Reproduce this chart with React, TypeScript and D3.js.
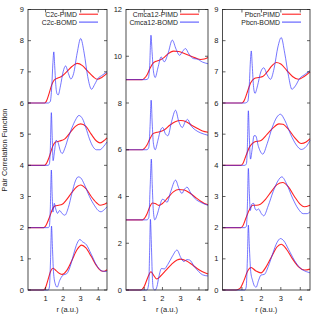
import * as d3 from "d3";

type Pt = [number, number];

// r (a.u.) ticks shared by the three panels
const rTicks = [1, 2, 3, 4];

// ---- C2c (values as plotted, offsets 6/4/2/0) ----
const c2cPimd: Pt[][] = [
  [[0,6],[0.95,6],[1.05,6.06],[1.2,6.3],[1.35,6.58],[1.5,6.74],[1.7,6.8],[1.9,6.85],[2.2,7.0],[2.5,7.17],[2.8,7.27],[3.1,7.2],[3.4,7.02],[3.7,6.85],[3.95,6.76],[4.2,6.82],[4.5,6.95]],
  [[0,4],[0.95,4],[1.05,4.06],[1.2,4.25],[1.4,4.6],[1.55,4.74],[1.8,4.78],[2.1,4.85],[2.4,5.05],[2.7,5.25],[3.0,5.33],[3.3,5.25],[3.6,5.0],[3.9,4.78],[4.1,4.72],[4.3,4.78],[4.5,4.88]],
  [[0,2],[0.9,2],[1.0,2.05],[1.2,2.3],[1.4,2.6],[1.55,2.7],[1.75,2.72],[1.95,2.75],[2.2,2.9],[2.5,3.13],[2.8,3.32],[3.0,3.37],[3.3,3.25],[3.6,3.0],[3.9,2.8],[4.1,2.72],[4.3,2.74],[4.5,2.8]],
  [[0,0],[0.88,0],[1.0,0.08],[1.15,0.35],[1.3,0.62],[1.43,0.7],[1.6,0.62],[1.8,0.53],[1.95,0.5],[2.2,0.62],[2.5,0.95],[2.8,1.3],[3.05,1.44],[3.3,1.35],[3.6,1.08],[3.9,0.78],[4.15,0.62],[4.35,0.6],[4.5,0.65]],
];
const c2cBomd: Pt[][] = [
  [[0,6],[1.15,6],[1.27,6.05],[1.35,6.5],[1.42,7.3],[1.47,7.64],[1.52,7.2],[1.58,6.6],[1.65,6.3],[1.72,6.26],[1.85,6.55],[2.0,7.0],[2.14,7.19],[2.3,6.95],[2.44,6.77],[2.6,6.95],[2.8,7.6],[3.0,8.07],[3.2,7.6],[3.4,6.85],[3.62,6.44],[3.8,6.6],[4.0,6.8],[4.2,6.88],[4.5,7.0]],
  [[0,4],[1.15,4],[1.22,4.05],[1.27,4.5],[1.33,5.69],[1.38,4.9],[1.43,4.15],[1.5,4.4],[1.6,4.8],[1.7,4.75],[1.85,4.45],[1.95,4.38],[2.1,4.55],[2.3,4.9],[2.5,5.2],[2.7,5.45],[2.9,5.6],[3.1,5.5],[3.3,5.2],[3.5,4.85],[3.7,4.6],[3.9,4.5],[4.1,4.5],[4.3,4.6],[4.5,4.75]],
  [[0,2],[1.15,2],[1.22,2.05],[1.27,2.6],[1.33,3.85],[1.38,3.0],[1.42,2.5],[1.5,2.78],[1.58,2.6],[1.68,2.46],[1.8,2.55],[1.95,2.45],[2.1,2.4],[2.3,2.65],[2.5,3.1],[2.7,3.5],[2.86,3.63],[3.0,3.6],[3.2,3.4],[3.5,3.0],[3.8,2.7],[4.0,2.55],[4.15,2.51],[4.35,2.58],[4.5,2.67]],
  [[0,0],[1.15,0],[1.22,0.1],[1.28,0.9],[1.34,2.05],[1.39,1.4],[1.45,0.6],[1.55,0.2],[1.66,0.09],[1.8,0.3],[2.0,0.48],[2.2,0.52],[2.4,0.75],[2.6,1.15],[2.8,1.5],[2.95,1.62],[3.1,1.55],[3.33,1.45],[3.6,1.15],[3.9,0.8],[4.15,0.63],[4.3,0.6],[4.5,0.6]],
];

// ---- Cmca12 (offsets 9/6/3/0) ----
const cmcaPimd: Pt[][] = [
  [[0,9],[0.9,9],[1.0,9.05],[1.15,9.2],[1.3,9.45],[1.5,9.72],[1.7,9.8],[1.9,9.85],[2.1,9.95],[2.3,10.1],[2.6,10.22],[2.9,10.2],[3.2,10.12],[3.5,10.02],[3.8,9.93],[4.1,9.86],[4.3,9.88],[4.5,9.95]],
  [[0,6],[0.9,6],[1.0,6.05],[1.15,6.2],[1.3,6.45],[1.5,6.7],[1.7,6.75],[1.9,6.78],[2.1,6.85],[2.4,7.05],[2.7,7.2],[3.0,7.25],[3.3,7.2],[3.6,7.05],[3.9,6.92],[4.2,6.8],[4.5,6.75]],
  [[0,3],[0.9,3],[1.0,3.05],[1.15,3.25],[1.3,3.55],[1.45,3.72],[1.6,3.7],[1.8,3.62],[2.0,3.7],[2.3,3.95],[2.6,4.2],[2.9,4.3],[3.2,4.28],[3.5,4.15],[3.8,3.97],[4.1,3.8],[4.3,3.7],[4.5,3.65]],
  [[0,0],[0.8,0],[1.0,0.15],[1.2,0.55],[1.37,0.78],[1.5,0.65],[1.69,0.47],[1.9,0.6],[2.2,0.85],[2.5,1.1],[2.8,1.28],[3.0,1.32],[3.3,1.25],[3.6,1.1],[3.9,0.92],[4.2,0.78],[4.5,0.68]],
];
const cmcaBomd: Pt[][] = [
  [[0,9],[1.1,9],[1.22,9.05],[1.3,9.6],[1.37,10.9],[1.43,10.2],[1.5,9.4],[1.6,9.09],[1.75,9.5],[1.93,9.97],[2.1,9.76],[2.3,10.1],[2.54,10.69],[2.75,10.3],[2.94,10.04],[3.1,10.2],[3.26,10.33],[3.45,10.1],[3.7,9.9],[3.9,9.88],[4.2,9.75],[4.5,9.68]],
  [[0,6],[1.15,6],[1.25,6.1],[1.32,7.0],[1.38,8.12],[1.44,7.1],[1.5,6.3],[1.6,6.0],[1.75,6.4],[1.9,6.85],[2.02,6.95],[2.15,6.7],[2.3,6.6],[2.5,7.2],[2.72,7.69],[2.9,7.2],[3.09,6.95],[3.25,7.2],[3.38,7.3],[3.55,7.05],[3.8,6.85],[4.1,6.72],[4.5,6.62]],
  [[0,3],[1.15,3],[1.25,3.1],[1.33,4.5],[1.39,5.6],[1.44,4.5],[1.5,3.4],[1.58,3.0],[1.7,3.2],[1.85,3.6],[2.0,3.88],[2.1,3.85],[2.25,3.75],[2.45,4.2],[2.72,4.7],[2.9,4.35],[3.07,4.13],[3.2,4.3],[3.35,4.4],[3.55,4.15],[3.8,3.9],[4.1,3.75],[4.5,3.62]],
  [[0,0],[1.15,0],[1.25,0.3],[1.3,1.8],[1.34,3.02],[1.39,2.0],[1.45,0.5],[1.5,0.05],[1.6,0],[1.7,0.15],[1.8,0.55],[1.95,0.92],[2.1,0.9],[2.3,1.1],[2.55,1.45],[2.8,1.71],[3.0,1.4],[3.17,1.22],[3.35,1.3],[3.5,1.28],[3.75,1.0],[4.0,0.78],[4.2,0.65],[4.5,0.6]],
];

// ---- Pbcn (offsets 6/4/2/0) ----
const pbcnPimd: Pt[][] = [
  [[0,6],[1.0,6],[1.1,6.06],[1.25,6.3],[1.45,6.65],[1.64,6.79],[1.85,6.82],[2.07,6.85],[2.3,7.0],[2.55,7.2],[2.76,7.3],[3.0,7.25],[3.3,7.05],[3.6,6.85],[3.9,6.76],[4.2,6.85],[4.5,7.0]],
  [[0,4],[0.95,4],[1.05,4.06],[1.2,4.3],[1.4,4.6],[1.64,4.75],[1.98,4.8],[2.3,5.0],[2.6,5.2],[2.9,5.33],[3.1,5.32],[3.4,5.15],[3.7,4.9],[4.05,4.7],[4.3,4.75],[4.5,4.86]],
  [[0,2],[0.95,2],[1.05,2.06],[1.2,2.3],[1.4,2.6],[1.55,2.72],[1.75,2.72],[1.95,2.75],[2.2,2.9],[2.5,3.15],[2.8,3.38],[3.1,3.45],[3.4,3.3],[3.7,3.0],[4.0,2.75],[4.2,2.67],[4.5,2.72]],
  [[0,0],[0.7,0],[0.9,0.05],[1.1,0.3],[1.3,0.62],[1.47,0.72],[1.7,0.62],[1.98,0.55],[2.25,0.75],[2.55,1.1],[2.8,1.38],[3.02,1.47],[3.3,1.3],[3.6,1.0],[3.9,0.75],[4.23,0.64],[4.5,0.67]],
];
const pbcnBomd: Pt[][] = [
  [[0,6],[1.15,6],[1.3,6.05],[1.38,6.6],[1.44,7.4],[1.48,7.67],[1.53,7.2],[1.6,6.5],[1.67,6.31],[1.8,6.55],[1.97,7.0],[2.12,7.13],[2.3,6.9],[2.47,6.76],[2.65,7.1],[2.85,7.8],[3.02,8.1],[3.2,7.6],[3.4,6.85],[3.57,6.44],[3.75,6.55],[3.97,6.79],[4.2,6.9],[4.5,7.04]],
  [[0,4],[1.15,4],[1.23,4.05],[1.28,4.6],[1.33,5.75],[1.38,4.9],[1.44,4.2],[1.52,4.5],[1.62,4.95],[1.7,4.95],[1.85,4.6],[2.07,4.36],[2.3,4.7],[2.55,5.2],[2.8,5.55],[2.98,5.64],[3.2,5.45],[3.5,5.0],[3.8,4.65],[4.05,4.51],[4.3,4.6],[4.5,4.8]],
  [[0,2],[1.15,2],[1.23,2.05],[1.28,2.7],[1.33,3.9],[1.38,3.1],[1.43,2.55],[1.5,2.75],[1.6,2.78],[1.68,2.6],[1.76,2.56],[1.85,2.6],[2.0,2.45],[2.12,2.38],[2.35,2.7],[2.6,3.15],[2.85,3.5],[3.05,3.63],[3.3,3.4],[3.6,2.95],[3.9,2.6],[4.15,2.45],[4.35,2.45],[4.5,2.51]],
  [[0,0],[1.15,0],[1.22,0.1],[1.28,1.0],[1.33,2.08],[1.38,1.4],[1.45,0.6],[1.55,0.3],[1.65,0.12],[1.73,0.09],[1.85,0.3],[1.98,0.48],[2.15,0.5],[2.35,0.75],[2.6,1.2],[2.8,1.52],[2.98,1.65],[3.15,1.58],[3.4,1.3],[3.7,0.95],[4.0,0.7],[4.31,0.59],[4.5,0.55]],
];

const yTicks9 = [0, 1, 2, 3, 4, 5, 6, 7, 8, 9];
const yTicks12 = [0, 2, 4, 6, 8, 10, 12];

const FONT = "'Liberation Sans', Arial, sans-serif";
const RED = "#ff2222";
const BLUE = "#3333ff";
const TOP = 9.5;
const BOTTOM = 290;

const panels = [
  { left: 28, right: 107, yMax: 9, yTicks: yTicks9, pimd: c2cPimd, bomd: c2cBomd, names: ["C2c-PIMD", "C2c-BOMD"] },
  { left: 126, right: 208, yMax: 12, yTicks: yTicks12, pimd: cmcaPimd, bomd: cmcaBomd, names: ["Cmca12-PIMD", "Cmca12-BOMD"] },
  { left: 222.5, right: 310, yMax: 9, yTicks: yTicks9, pimd: pbcnPimd, bomd: pbcnBomd, names: ["Pbcn-PIMD", "Pbcn-BOMD"] },
];

function Panel({ p }: { p: (typeof panels)[number] }) {
  const x = d3.scaleLinear().domain([0, 4.5]).range([p.left, p.right]);
  const y = d3.scaleLinear().domain([0, p.yMax]).range([BOTTOM, TOP]);
  const line = d3
    .line<Pt>()
    .x((d) => x(d[0]))
    .y((d) => y(d[1]))
    .curve(d3.curveMonotoneX);
  const tick = 3;
  const legX = p.right - 9;
  return (
    <g>
      {p.pimd.map((c, i) => (
        <path key={"r" + i} d={line(c) ?? ""} fill="none" stroke={RED} strokeWidth={1.1} />
      ))}
      {p.bomd.map((c, i) => (
        <path key={"b" + i} d={line(c) ?? ""} fill="none" stroke={BLUE} strokeWidth={0.9} strokeOpacity={0.75} />
      ))}
      <rect x={p.left} y={TOP} width={p.right - p.left} height={BOTTOM - TOP} fill="none" stroke="#222" strokeWidth={0.8} />
      {p.yTicks.map((t) => (
        <g key={"y" + t}>
          <line x1={p.left} x2={p.left + tick} y1={y(t)} y2={y(t)} stroke="#222" strokeWidth={0.7} />
          <line x1={p.right} x2={p.right - tick} y1={y(t)} y2={y(t)} stroke="#222" strokeWidth={0.7} />
          <text x={p.left - 4} y={y(t)} dy="0.35em" textAnchor="end" fontSize={7.5} fontFamily={FONT} fill="#222">
            {t}
          </text>
        </g>
      ))}
      {rTicks.map((t) => (
        <g key={"x" + t}>
          <line x1={x(t)} x2={x(t)} y1={BOTTOM} y2={BOTTOM - tick} stroke="#222" strokeWidth={0.7} />
          <line x1={x(t)} x2={x(t)} y1={TOP} y2={TOP + tick} stroke="#222" strokeWidth={0.7} />
          <text x={x(t)} y={BOTTOM + 10.5} textAnchor="middle" fontSize={7.5} fontFamily={FONT} fill="#222">
            {t}
          </text>
        </g>
      ))}
      <text x={(p.left + p.right) / 2} y={312} textAnchor="middle" fontSize={7.5} fontFamily={FONT} fill="#222">
        r (a.u.)
      </text>
      {p.names.map((n, i) => (
        <g key={n}>
          <text x={legX - 21} y={16.6 + i * 7.9} textAnchor="end" fontSize={6.9} fontFamily={FONT} fill="#222">
            {n}
          </text>
          <line
            x1={legX - 19}
            x2={legX}
            y1={14.2 + i * 7.9}
            y2={14.2 + i * 7.9}
            stroke={i === 0 ? RED : BLUE}
            strokeWidth={i === 0 ? 1.1 : 0.9}
          />
        </g>
      ))}
    </g>
  );
}

export default function App() {
  return (
    <div style={{ position: "absolute", left: 0, top: 0 }}>
      <svg width={315} height={315} style={{ display: "block", background: "#fff" }}>
        {panels.map((p, i) => (
          <Panel key={i} p={p} />
        ))}
        <text
          transform="translate(6.5,150) rotate(-90)"
          textAnchor="middle"
          fontSize={7.5}
          fontFamily={FONT}
          fill="#222"
        >
          Pair Correlation Function
        </text>
      </svg>
    </div>
  );
}
